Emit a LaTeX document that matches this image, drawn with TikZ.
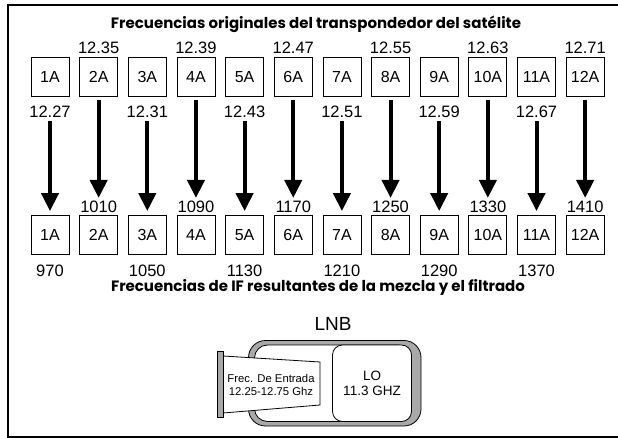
\documentclass[tikz,border=0pt]{standalone}
\usepackage{fontspec}
\setmainfont{Liberation Sans}
\newfontfamily\titlefont{Poppins}
\usetikzlibrary{arrows.meta}
\definecolor{bandgray}{HTML}{A8A8A8}
\tikzset{
  chan/.style={draw=black, line width=0.8pt, minimum width=38pt, minimum height=39pt, inner sep=0pt, font=\fontsize{16}{16}\selectfont},
  freq/.style={inner sep=0pt, font=\fontsize{16.5}{16}\selectfont},
  ttl/.style={inner sep=0pt, font=\titlefont\bfseries\fontsize{15}{15}\selectfont},
  bigarrow/.style={line width=4pt, -{Triangle[width=17pt,length=18pt]}},
  small/.style={inner sep=0pt, align=center, font=\fontsize{11.3}{13}\selectfont},
}
\begin{document}
\begin{tikzpicture}[x=1pt,y=-1pt]
\useasboundingbox (0,0) rectangle (618,438);
% frame
\draw[line width=2pt] (618,5.5) -- (7.5,5.5) -- (7.5,437) -- (618,437);
% titles
\node[ttl] (t1) at (316,24) {Frecuencias originales del transpondedor del satélite};
\node[ttl] (t2) at (318,287) {Frecuencias de IF resultantes de la mezcla y el filtrado};
% channels
\foreach \i/\top/\bot in {1/12.27/970,2/12.35/1010,3/12.31/1050,4/12.39/1090,5/12.43/1130,6/12.47/1170,7/12.51/1210,8/12.55/1250,9/12.59/1290,10/12.63/1330,11/12.67/1370,12/12.71/1410}{
  \pgfmathsetmacro{\xx}{50+(\i-1)*48.65}
  \node[chan] (a\i) at (\xx,77) {\i A};
  \node[chan] (b\i) at (\xx,235) {\i A};
  \ifodd\i
    \node[freq] (fa\i) at (\xx,112) {\top};
    \node[freq] (fb\i) at (\xx,271) {\bot};
    \draw[bigarrow, shorten <=3pt, shorten >=4pt] (fa\i.south) -- (b\i.north);
  \else
    \node[freq] (fa\i) at (\xx,48) {\top};
    \node[freq] (fb\i) at (\xx,207) {\bot};
    \draw[bigarrow, shorten <=3pt, shorten >=3pt] (a\i.south) -- (fb\i.north);
  \fi
}
% LNB
\node[inner sep=0pt, font=\fontsize{19}{19}\selectfont] (lnb) at (333,324) {LNB};
\draw[line width=0.8pt, fill=bandgray, rounded corners=17pt] (248.5,340.5) rectangle (421,426);
\draw[line width=0.8pt, fill=white, rounded corners=13pt] (254.5,345) rectangle (411.5,421.5);
\node[draw, line width=0.8pt, fill=white, rounded corners=10pt, minimum width=79pt, minimum height=76.5pt, inner sep=0pt, align=center, font=\fontsize{13.5}{15}\selectfont] (lo) at (372,383.25) {LO\\11.3 GHZ};
% horn
\filldraw[line width=0.8pt, fill=white] (223,356) -- (320,362) -- (320,405) -- (223,413) -- cycle;
\filldraw[line width=0.8pt, fill=bandgray] (217,351.5) rectangle (223,417.5);
\node[small] (horn) at (271,385) {Frec. De Entrada\\12.25-12.75 Ghz};
\end{tikzpicture}
\end{document}
